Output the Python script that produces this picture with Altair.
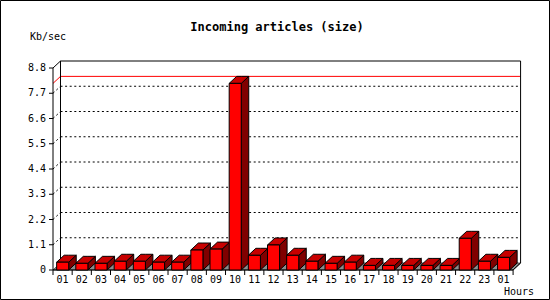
import altair as alt
import pandas as pd

# ---------------- data ----------------
hours = ["01", "02", "03", "04", "05", "06", "07", "08", "09", "10", "11", "12",
         "13", "14", "15", "16", "17", "18", "19", "20", "21", "22", "23", "01"]
values = [0.34, 0.29, 0.29, 0.38, 0.38, 0.34, 0.34, 0.87, 0.91, 8.13, 0.64, 1.09,
          0.64, 0.38, 0.29, 0.34, 0.20, 0.20, 0.20, 0.20, 0.20, 1.38, 0.38, 0.55]
y_ticks = [0, 1.1, 2.2, 3.3, 4.4, 5.5, 6.6, 7.7, 8.8]
y_tick_labels = ["0", "1.1", "2.2", "3.3", "4.4", "5.5", "6.6", "7.7", "8.8"]
title_text = "Incoming articles (size)"
y_unit = "Kb/sec"
x_unit = "Hours"

# ---------------- geometry (styles) ----------------
W, H = 550, 300
SLOT = 19.17            # px per hour slot
X0 = 53                 # px of front-left axis
Y0 = 270                # px of zero line
YMAX = 8.8
UNIT = 202 / YMAX       # px per value unit
DX = 7.5 / SLOT         # depth, x in slot units
DY = 7.0 / UNIT         # depth, y in value units
BL, BR = 0.19, 0.82     # bar front edges inside slot
N = len(values)
DASH = [2, 2.6]

xs = alt.Scale(domain=[-X0 / SLOT, (W - X0) / SLOT], nice=False, zero=False)
ys = alt.Scale(domain=[-(H - Y0) / UNIT, Y0 / UNIT], nice=False, zero=False)
FONT = "DejaVu Sans Mono"

# floor
floor = pd.DataFrame({"x": [0, DX, N, N + DX], "y": [0, 0, 0, DY], "y2": [0, DY, DY, DY]})
floor_l = alt.Chart(floor).mark_area(fill="#8c8c8c", stroke="black", strokeWidth=0.6,
                                     orient="vertical").encode(
    x=alt.X("x:Q", scale=xs, axis=None), y=alt.Y("y:Q", scale=ys, axis=None), y2="y2:Q")

# grid (back plane) and left-wall diagonals
grid_vals = y_ticks[1:-1]
grid = pd.DataFrame({"x": [DX] * len(grid_vals), "x2": [N + DX] * len(grid_vals),
                     "y": [g + DY for g in grid_vals]})
grid_l = alt.Chart(grid).mark_rule(color="black", strokeDash=DASH, strokeWidth=1).encode(
    x=alt.X("x:Q", scale=xs, axis=None), x2="x2:Q", y=alt.Y("y:Q", scale=ys, axis=None))
wall = pd.DataFrame({"x": [0] * len(grid_vals), "x2": [DX] * len(grid_vals),
                     "y": grid_vals, "y2": [g + DY for g in grid_vals]})
wall_l = alt.Chart(wall).mark_rule(color="black", strokeDash=DASH, strokeWidth=1).encode(
    x=alt.X("x:Q", scale=xs, axis=None), x2="x2:Q",
    y=alt.Y("y:Q", scale=ys, axis=None), y2="y2:Q")

# max line (red)
vmax = max(values)
maxd = pd.DataFrame({"x": [0, DX], "x2": [DX, N + DX], "y": [vmax, vmax + DY], "y2": [vmax + DY, vmax + DY]})
max_l = alt.Chart(maxd).mark_rule(color="red", strokeWidth=1).encode(
    x=alt.X("x:Q", scale=xs, axis=None), x2="x2:Q",
    y=alt.Y("y:Q", scale=ys, axis=None), y2="y2:Q")

# frame
frame = pd.DataFrame({
    "x":  [DX, DX, N + DX, 0, 0, 0, N],
    "x2": [DX, N + DX, N + DX, 0, DX, N, N + DX],
    "y":  [DY, YMAX + DY, DY, 0, YMAX, 0, 0],
    "y2": [YMAX + DY, YMAX + DY, YMAX + DY, YMAX, YMAX + DY, 0, DY],
})
frame_l = alt.Chart(frame).mark_rule(color="black", strokeWidth=1).encode(
    x=alt.X("x:Q", scale=xs, axis=None), x2="x2:Q",
    y=alt.Y("y:Q", scale=ys, axis=None), y2="y2:Q")

# tick marks
yt = pd.DataFrame({"v": y_ticks, "lab": y_tick_labels})
ytick_l = alt.Chart(yt).mark_rule(color="black").encode(
    x=alt.value(X0 - 4), x2=alt.value(X0), y=alt.Y("v:Q", scale=ys, axis=None))
ylab_l = alt.Chart(yt).mark_text(font=FONT, fontSize=10, align="right", baseline="middle",
                                 color="black").encode(
    x=alt.value(46), y=alt.Y("v:Q", scale=ys, axis=None), text="lab:N")

xt = pd.DataFrame({"i": list(range(N + 1))})
xtick_l = alt.Chart(xt).mark_rule(color="black").encode(
    x=alt.X("i:Q", scale=xs, axis=None), y=alt.value(Y0), y2=alt.value(Y0 + 5))

bars = pd.DataFrame({"i": list(range(N)), "lab": hours, "v": values})
bars["xl"] = bars["i"] + BL
bars["xr"] = bars["i"] + BR
bars["xc"] = bars["i"] + 0.5
xlab_l = alt.Chart(bars).mark_text(font=FONT, fontSize=10, align="center", baseline="middle",
                                   color="black").encode(
    x=alt.X("xc:Q", scale=xs, axis=None), y=alt.value(280), text="lab:N")

# bar faces
top_rows, side_rows = [], []
for i, v in enumerate(values):
    xl, xr = i + BL, i + BR
    top_rows += [
        {"b": i, "x": xl, "y": v, "y2": v},
        {"b": i, "x": xl + DX, "y": v, "y2": v + DY},
        {"b": i, "x": xr, "y": v, "y2": v + DY},
        {"b": i, "x": xr + DX, "y": v + DY, "y2": v + DY},
    ]
    side_rows += [
        {"b": i, "x": xr, "y": 0, "y2": v},
        {"b": i, "x": xr + DX, "y": DY, "y2": v + DY},
    ]
top_l = alt.Chart(pd.DataFrame(top_rows)).mark_area(
    fill="#c80000", stroke="black", strokeWidth=1, orient="vertical", strokeJoin="miter").encode(
    x=alt.X("x:Q", scale=xs, axis=None), y=alt.Y("y:Q", scale=ys, axis=None), y2="y2:Q",
    detail="b:N")
side_l = alt.Chart(pd.DataFrame(side_rows)).mark_area(
    fill="#800000", stroke="black", strokeWidth=1, orient="vertical", strokeJoin="miter").encode(
    x=alt.X("x:Q", scale=xs, axis=None), y=alt.Y("y:Q", scale=ys, axis=None), y2="y2:Q",
    detail="b:N")
front_l = alt.Chart(bars).mark_rect(fill="#ff0000", stroke="black", strokeWidth=1).encode(
    x=alt.X("xl:Q", scale=xs, axis=None), x2="xr:Q",
    y=alt.Y("v:Q", scale=ys, axis=None), y2=alt.datum(0))

# texts
txt = pd.DataFrame({"t": [title_text]})
title_l = alt.Chart(txt).mark_text(font=FONT, fontSize=12, fontWeight="bold", align="center",
                                   baseline="middle", color="black").encode(
    x=alt.value(277), y=alt.value(27), text="t:N")
yu_l = alt.Chart(pd.DataFrame({"t": [y_unit]})).mark_text(
    font=FONT, fontSize=10, align="left", baseline="middle", color="black").encode(
    x=alt.value(30), y=alt.value(37), text="t:N")
xu_l = alt.Chart(pd.DataFrame({"t": [x_unit]})).mark_text(
    font=FONT, fontSize=10, align="left", baseline="middle", color="black").encode(
    x=alt.value(504), y=alt.value(292), text="t:N")

border_l = alt.Chart(pd.DataFrame({"a": [0]})).mark_rect(
    fill=None, stroke="black", strokeWidth=1).encode(
    x=alt.value(0.5), x2=alt.value(W - 0.5), y=alt.value(0.5), y2=alt.value(H - 0.5))

chart = alt.layer(
    floor_l, grid_l, wall_l, max_l, frame_l, ytick_l, ylab_l, xtick_l, xlab_l,
    side_l, top_l, front_l, title_l, yu_l, xu_l, border_l
).properties(
    width=W, height=H, autosize=alt.AutoSizeParams(type="none"), padding=0,
    background="white"
).configure_view(stroke=None)

chart.save("out.html", embed_options={"renderer": "svg", "actions": False})
